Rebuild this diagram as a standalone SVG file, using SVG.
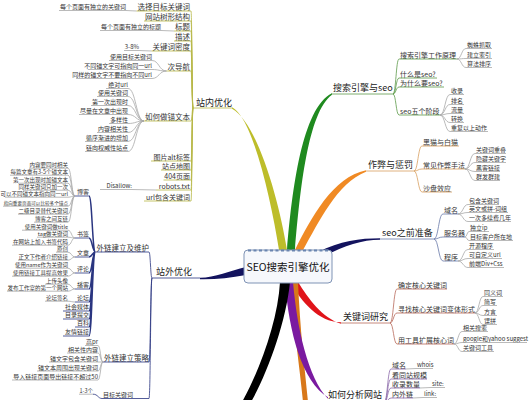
<svg xmlns="http://www.w3.org/2000/svg" width="529" height="400" viewBox="0 0 529 400">
<style>
text{font-family:"Noto Sans CJK SC","Noto Sans",sans-serif;fill:#333}
.e{text-anchor:end}
.f9{font-size:9px;fill:#222}
.f75{font-size:7.5px}
.f7{font-size:7px}
.f65{font-size:6.5px}
.f6{font-size:6px}
.f55{font-size:5.5px}
path.u,#conn path{fill:none;stroke-width:0.8}
.ky{stroke:#b8b848}
.kg{stroke:#5d9a4a}
.ko{stroke:#d8a060}
.kn{stroke:#6878a8}
.kr{stroke:#b86a5a}
.kp{stroke:#8a68a8}
.kb{stroke:#2a3580}
.kx{stroke:#a8a8a8}
</style>
<rect width="529" height="400" fill="#fff"/>
<g id="branches">
<path fill="#bdbd2a" d="M279,250 C271,200 253,118 232,107.3 L232,108.7 C257,122 279,200 287,250 Z"/>
<path fill="#1f8a1f" d="M287,250 C292,190 302,108 332,93.3 L332,94.7 C308,112 300,190 295,250 Z"/>
<path fill="#f08a24" d="M295,250 C311,218 333,177 366,170.3 L366,171.7 C337,183 319,222 303,250 Z"/>
<path fill="#13135e" d="M318,252 C340,241 360,238.3 380,238.3 L380,239.7 C360,239.7 340,247 318,260 Z"/>
<path fill="#e0141a" d="M290,282 C302,302 318,322 341,322.3 L341,323.7 C322,318 308,298 298,282 Z"/>
<path fill="#d8781a" d="M290,282 C294,330 300,370 303,402 L308,402 C305,370 300,330 298,282 Z"/>
<path fill="#7a1aa0" d="M285,282 C289,332 302,382 328,397.3 L328,398.7 C308,378 297,328 293,282 Z"/>
<path fill="#000" d="M280,282 C278,320 260,370 242,402 L251,402 C268,372 286,322 290,282 Z"/>
<path fill="#13135e" d="M246,267 C230,271 215,277.5 200,277.8 L200,279.2 C215,279.5 230,278 246,275 Z"/>
</g>
<g id="conn">
<path class="ky" d="M193 108C192 108 192 11 191 11M193 108C192 108 192 21 191 21M193 108C192 108 192 31 191 31M193 108C192 108 192 41 191 41M193 108C192 108 192 51 191 51M193 108C192 108 192 71 191 71M193 108C192 108 192 121 191 121M193 108C192 108 192 161 191 161M193 108C192 108 192 170 191 170M193 108C192 108 192 180 191 180M193 108C192 108 192 190 191 190M193 108C192 108 192 201 191 201"/>
<path class="kx" d="M126 10.5L136.5 11M161 30.5L174 31M139 50.5L151.5 51M152 60.5C159 60.5 159 71 166.5 71M152 69.5C159 69.5 159 71 166.5 71M152 78.5C159 78.5 159 71 166.5 71"/>
<path class="kx" d="M128 88.5C136 88.5 136 121 144 121M128 96.5C136 96.5 136 121 144 121M128 105.5C136 105.5 136 121 144 121M128 114.5C136 114.5 136 121 144 121M128 123.5C136 123.5 136 121 144 121M128 132.5C136 132.5 136 121 144 121M128 141.5C136 141.5 136 121 144 121M128 151.5C136 151.5 136 121 144 121M132 189.5L156 190"/>
<path class="kb" d="M152 278C150.5 278 150.5 252 149 252M152 278C150.5 278 150.5 362 149 362M152 278C150.5 278 150.5 398.5 149 398.5M93 394.2C98 394.2 98 398.5 102 398.5"/>
<path class="kb" style="stroke-width:1.5" d="M95.5 252C92.2 252 92.2 196 89 196M95.5 252C92.2 252 92.2 238 89 238M95.5 252C92.2 252 92.2 257 89 257M95.5 252C92.2 252 92.2 273 89 273M95.5 252C92.2 252 92.2 289 89 289M95.5 252C92.2 252 92.2 302 89 302M95.5 252C92.2 252 92.2 311 89 311M95.5 252C92.2 252 92.2 319 89 319M95.5 252C92.2 252 92.2 327 89 327M95.5 252C92.2 252 92.2 336 89 336"/>
<path class="kx" d="M68 168.2C71.5 168.2 71.5 196 75 196M68 175.2C71.5 175.2 71.5 196 75 196M68 183.2C71.5 183.2 71.5 196 75 196M68 190.2C71.5 190.2 71.5 196 75 196M68 197.2C71.5 197.2 71.5 196 75 196M68 206.2C71.5 206.2 71.5 196 75 196M68 214.2C71.5 214.2 71.5 196 75 196M68 222.2C71.5 222.2 71.5 196 75 196"/>
<path class="kx" d="M68 230.2C71.5 230.2 71.5 238 75 238M68 237.2C71.5 237.2 71.5 238 75 238M68 245.2C71.5 245.2 71.5 238 75 238M68 252.2C71.5 252.2 71.5 257 75 257M68 260.2C71.5 260.2 71.5 257 75 257M68 268.2C71.5 268.2 71.5 273 75 273M68 276.2C71.5 276.2 71.5 273 75 273M68 284.2C71.5 284.2 71.5 289 75 289M68 291.2C71.5 291.2 71.5 289 75 289M68 301.2C71.5 301.2 71.5 302 75 302"/>
<path class="kx" d="M98 345.5C100.5 345.5 100.5 362 103 362M98 353C100.5 353 100.5 362 103 362M98 362L103 362M98 371C100.5 371 100.5 362 103 362M98 380C100.5 380 100.5 362 103 362"/>
<path class="kg" d="M393 94C396 94 396 59 399 59M393 94C396 94 396 78 399 78M393 94C396 94 396 87 399 87M393 94C396 94 396 115 399 115"/>
<path class="kx" d="M457 59C461.5 59 461.5 48.5 466 48.5M457 59C461.5 59 461.5 58.5 466 58.5M457 59C461.5 59 461.5 67.5 466 67.5M440 115C445 115 445 94.5 450 94.5M440 115C445 115 445 104.5 450 104.5M440 115C445 115 445 113.5 450 113.5M440 115C445 115 445 122.5 450 122.5M440 115C445 115 445 131.5 450 131.5"/>
<path class="ko" d="M414 171C418 171 418 146 422 146M414 171C418 171 418 169 422 169M414 171C418 171 418 192 422 192"/>
<path class="kx" d="M465 169C470 169 470 153.5 475 153.5M465 169C470 169 470 162.5 475 162.5M465 169C470 169 470 171.5 475 171.5M465 169C470 169 470 180.5 475 180.5"/>
<path class="kn" d="M434 239C438.5 239 438.5 214 443 214M434 239C438.5 239 438.5 237 443 237M434 239C438.5 239 438.5 261 443 261"/>
<path class="kx" d="M458 214C463 214 463 204.5 468 204.5M458 214C463 214 463 212.5 468 212.5M458 214C463 214 463 221.5 468 221.5M465 237C467 237 467 231.5 469 231.5M465 237C467 237 467 240.5 469 240.5M458 261C463 261 463 249.5 468 249.5M458 261C463 261 463 258.5 468 258.5M458 261C463 261 463 267.5 468 267.5"/>
<path class="kr" d="M390 323C393.5 323 393.5 289 397 289M390 323C393.5 323 393.5 313 397 313M390 323C393.5 323 393.5 344 397 344"/>
<path class="kx" d="M475 313C479 313 479 296.5 483 296.5M475 313C479 313 479 305.5 483 305.5M475 313C479 313 479 315.5 483 315.5M475 313C479 313 479 324.5 483 324.5M454 344C458 344 458 331.5 462 331.5M454 344C458 344 458 342.5 462 342.5M454 344C458 344 458 351.5 462 351.5"/>
<path class="kp" d="M384 403C387.5 403 387.5 369 391 369M384 403C387.5 403 387.5 379 391 379M384 403C387.5 403 387.5 388 391 388M384 403C387.5 403 387.5 398 391 398"/>
<path class="kx" d="M406 369L416 368.5M420 388L431 387.5M413 398L423 397.5"/>
</g>
<g id="center">
<rect x="244" y="250" width="88" height="33" rx="4" fill="#f6f8fc" stroke="#7f93b5" stroke-width="1"/>
<path d="M248 250.5H328" stroke="#6a85b0" stroke-width="2.2" stroke-dasharray="3 2.5" fill="none"/>
<text x="288" y="271" text-anchor="middle" style="font-size:10.5px;fill:#111">SEO搜索引擎优化</text>
</g>
<g id="n-znyh"><text class="f9" x="196" y="106">站内优化</text><path class="u ky" d="M193 108H232"/></g>
<g id="n-zn1"><text class="f75 e" x="190" y="9.7">选择目标关键词</text><path class="u ky" d="M136.5 11H191"/></g>
<g id="n-zn2"><text class="f75 e" x="190" y="19.7">网站树形结构</text><path class="u ky" d="M144 21H191"/></g>
<g id="n-zn3"><text class="f75 e" x="190" y="29.7">标题</text><path class="u ky" d="M174 31H191"/></g>
<g id="n-zn4"><text class="f75 e" x="190" y="39.7">描述</text><path class="u ky" d="M174 41H191"/></g>
<g id="n-zn5"><text class="f75 e" x="190" y="49.7">关键词密度</text><path class="u ky" d="M151.5 51H191"/></g>
<g id="n-zn6"><text class="f75 e" x="190" y="69.7">次导航</text><path class="u ky" d="M166.5 71H191"/></g>
<g id="n-zn7"><text class="f75 e" x="190" y="119.7">如何做锚文本</text><path class="u ky" d="M144 121H191"/></g>
<g id="n-zn8"><text class="f7 e" x="190" y="159.5">图片alt标签</text><path class="u ky" d="M151 161H191"/></g>
<g id="n-zn9"><text class="f7 e" x="190" y="168.5">站点地图</text><path class="u ky" d="M161 170H191"/></g>
<g id="n-zn10"><text class="f7 e" x="190" y="178.5">404页面</text><path class="u ky" d="M163.5 180H191"/></g>
<g id="n-zn11"><text class="f7 e" x="190" y="188.5">robots.txt</text><path class="u ky" d="M156 190H191"/></g>
<g id="n-zn12"><text class="f7 e" x="190" y="199.5">url包含关键词</text><path class="u ky" d="M144 201H191"/></g>
<g id="n-zl1"><text class="f6 e" x="126" y="9.2">每个页面有独立的关键词</text><path class="u kx" d="M59 10.5H126"/></g>
<g id="n-zl2"><text class="f6 e" x="161" y="29.2">每个页面有独立的标题</text><path class="u kx" d="M100 30.5H161"/></g>
<g id="n-zl3"><text class="f6 e" x="139" y="49.2">3-8%</text><path class="u kx" d="M124 50.5H139"/></g>
<g id="n-zl4"><text class="f6 e" x="152" y="59.2">使用目标关键词</text><path class="u kx" d="M109 60.5H152"/></g>
<g id="n-zl5"><text class="f6 e" x="152" y="68.2">不同锚文字可指向同一url</text><path class="u kx" d="M88 69.5H152"/></g>
<g id="n-zl6"><text class="f6 e" x="152" y="77.2">同样的锚文字不要指向不同url</text><path class="u kx" d="M76 78.5H152"/></g>
<g id="n-zl7"><text class="f6 e" x="128" y="87.2">绝对url</text><path class="u kx" d="M106 88.5H128"/></g>
<g id="n-zl8"><text class="f6 e" x="128" y="95.2">使用关键词</text><path class="u kx" d="M97 96.5H128"/></g>
<g id="n-zl9"><text class="f6 e" x="128" y="104.2">第一次出现时</text><path class="u kx" d="M91 105.5H128"/></g>
<g id="n-zl10"><text class="f6 e" x="128" y="113.2">尽量在文章中出现</text><path class="u kx" d="M79 114.5H128"/></g>
<g id="n-zl11"><text class="f6 e" x="128" y="122.2">多样性</text><path class="u kx" d="M109 123.5H128"/></g>
<g id="n-zl12"><text class="f6 e" x="128" y="131.2">内容相关性</text><path class="u kx" d="M97 132.5H128"/></g>
<g id="n-zl13"><text class="f6 e" x="128" y="140.2">循序渐进的增加</text><path class="u kx" d="M85 141.5H128"/></g>
<g id="n-zl14"><text class="f6 e" x="128" y="150.2">链向权威性站点</text><path class="u kx" d="M85 151.5H128"/></g>
<g id="n-zl15"><text class="f6 e" x="132" y="188.2">Disallow:</text><path class="u kx" d="M100 189.5H132"/></g>
<g id="n-zwyh"><text class="f9" x="156" y="275.2">站外优化</text><path class="u kb" d="M152 278H200"/></g>
<g id="n-wl1"><text class="f75 e" x="149" y="250.7">外链建立及维护</text><path class="u kb" d="M95.5 252H149"/></g>
<g id="n-wl2"><text class="f75 e" x="149" y="360.7">外链建立策略</text><path class="u kb" d="M103 362H149"/></g>
<g id="n-wl3"><text class="f6 e" x="133" y="397.2">目标关键词</text><path class="u kb" d="M102 398.5H149"/></g>
<g id="n-wl4"><text class="f55 e" x="93" y="393">1-3个</text><path class="u kx" d="M79 394.2H93"/></g>
<g id="n-b1"><text class="f6 e" x="89" y="194.2">博客</text><path class="u kb" d="M75 196H89"/></g>
<g id="n-b2"><text class="f6 e" x="89" y="236.2">书签</text><path class="u kb" d="M75 238H89"/></g>
<g id="n-b3"><text class="f6 e" x="89" y="255.2">文章</text><path class="u kb" d="M75 257H89"/></g>
<g id="n-b4"><text class="f6 e" x="89" y="271.2">评论</text><path class="u kb" d="M75 273H89"/></g>
<g id="n-b5"><text class="f6 e" x="89" y="287.2">播客</text><path class="u kb" d="M75 289H89"/></g>
<g id="n-b6"><text class="f6 e" x="89" y="300.2">论坛</text><path class="u kb" d="M75 302H89"/></g>
<g id="n-b7"><text class="f6 e" x="89" y="309.2">社会媒体</text><path class="u kb" d="M63 311H89"/></g>
<g id="n-b8"><text class="f6 e" x="89" y="317.2">目录提交</text><path class="u kb" d="M63 319H89"/></g>
<g id="n-b9"><text class="f6 e" x="89" y="325.2">百科</text><path class="u kb" d="M75 327H89"/></g>
<g id="n-b10"><text class="f6 e" x="89" y="334.2">友情链接</text><path class="u kb" d="M63 336H89"/></g>
<g id="n-bl1"><text class="f55 e" x="68" y="167">内容要同时相关</text><path class="u kx" d="M29 168.2H68"/></g>
<g id="n-bl2"><text class="f55 e" x="68" y="174">每篇文章有3-5个锚文本</text><path class="u kx" d="M10 175.2H68"/></g>
<g id="n-bl3"><text class="f55 e" x="68" y="182">第一次出现时加锚文本</text><path class="u kx" d="M18 183.2H68"/></g>
<g id="n-bl4"><text class="f55 e" x="68" y="189">同样关键词只加一次</text><path class="u kx" d="M23 190.2H68"/></g>
<g id="n-bl5"><text class="f55 e" x="68" y="196">可以不同锚文本指向同一url</text><path class="u kx" d="M5 197.2H68"/></g>
<g id="n-bl6"><text class="e" x="68" y="205" style="font-size:4.6px">指向重要页面可以比较多个锚点</text><path class="u kx" d="M3 206.2H68"/></g>
<g id="n-bl7"><text class="f55 e" x="68" y="213">二级目录替代关键词</text><path class="u kx" d="M18 214.2H68"/></g>
<g id="n-bl8"><text class="f55 e" x="68" y="221">博客之间互链</text><path class="u kx" d="M34 222.2H68"/></g>
<g id="n-sl1"><text class="f55 e" x="68" y="229">使用关键词做title</text><path class="u kx" d="M22 230.2H68"/></g>
<g id="n-sl2"><text class="f55 e" x="68" y="236">tag做关键词</text><path class="u kx" d="M37 237.2H68"/></g>
<g id="n-sl3"><text class="f55 e" x="68" y="244">在网站上加入书签代码</text><path class="u kx" d="M12 245.2H68"/></g>
<g id="n-al1"><text class="f55 e" x="68" y="251">原创</text><path class="u kx" d="M56 252.2H68"/></g>
<g id="n-al2"><text class="f55 e" x="68" y="259">正文下作者介绍链接</text><path class="u kx" d="M18 260.2H68"/></g>
<g id="n-pl1"><text class="f55 e" x="68" y="267">使用name作为关键词</text><path class="u kx" d="M17 268.2H68"/></g>
<g id="n-pl2"><text class="f55 e" x="68" y="275">使用链接工具提高效果</text><path class="u kx" d="M12 276.2H68"/></g>
<g id="n-wk1"><text class="f55 e" x="68" y="283">上传头像</text><path class="u kx" d="M45 284.2H68"/></g>
<g id="n-wk2"><text class="f55 e" x="68" y="290">发布工作室的第一个网站</text><path class="u kx" d="M7 291.2H68"/></g>
<g id="n-lt1"><text class="f55 e" x="68" y="300">论坛签名</text><path class="u kx" d="M45 301.2H68"/></g>
<g id="n-cl1"><text class="f6 e" x="98" y="344.2">高pr</text><path class="u kx" d="M85 345.5H98"/></g>
<g id="n-cl2"><text class="f6 e" x="98" y="351.7">相关性内容</text><path class="u kx" d="M67 353H98"/></g>
<g id="n-cl3"><text class="f6 e" x="98" y="360.7">锚文字包含关键词</text><path class="u kx" d="M49 362H98"/></g>
<g id="n-cl4"><text class="f6 e" x="98" y="369.7">锚文本周围出现关键词</text><path class="u kx" d="M37 371H98"/></g>
<g id="n-cl5"><text class="f6 e" x="98" y="378.7">导入链接页面导出链接不超过50</text><path class="u kx" d="M12 380H98"/></g>
<g id="n-ssyq"><text class="f9" x="333" y="91.2">搜索引擎与seo</text><path class="u kg" d="M331 94H393"/></g>
<g id="n-s1"><text class="f7" x="400" y="57.5">搜索引擎工作原理</text><path class="u kg" d="M399 59H457"/></g>
<g id="n-s2"><text class="f7" x="400" y="76.5">什么是seo?</text><path class="u kg" d="M399 78H437"/></g>
<g id="n-s3"><text class="f7" x="400" y="85.5">为什么要seo?</text><path class="u kg" d="M399 87H444"/></g>
<g id="n-s4"><text class="f7" x="400" y="113.5">seo五个阶段</text><path class="u kg" d="M399 115H440"/></g>
<g id="n-sl-1"><text class="f6" x="467" y="47.2">蜘蛛抓取</text><path class="u kx" d="M466 48.5H492"/></g>
<g id="n-sl-2"><text class="f6" x="467" y="57.2">建立索引</text><path class="u kx" d="M466 58.5H492"/></g>
<g id="n-sl-3"><text class="f6" x="467" y="66.2">算法排序</text><path class="u kx" d="M466 67.5H492"/></g>
<g id="n-sj1"><text class="f6" x="451" y="93.2">收录</text><path class="u kx" d="M450 94.5H464"/></g>
<g id="n-sj2"><text class="f6" x="451" y="103.2">排名</text><path class="u kx" d="M450 104.5H464"/></g>
<g id="n-sj3"><text class="f6" x="451" y="112.2">流量</text><path class="u kx" d="M450 113.5H464"/></g>
<g id="n-sj4"><text class="f6" x="451" y="121.2">转换</text><path class="u kx" d="M450 122.5H464"/></g>
<g id="n-sj5"><text class="f6" x="451" y="130.2">重复以上动作</text><path class="u kx" d="M450 131.5H488"/></g>
<g id="n-zbcf"><text class="f9" x="368" y="168.2">作弊与惩罚</text><path class="u ko" d="M366 171H414"/></g>
<g id="n-z1"><text class="f7" x="423" y="144.5">黑猫与白猫</text><path class="u ko" d="M422 146H459"/></g>
<g id="n-z2"><text class="f7" x="423" y="167.5">常见作弊手法</text><path class="u ko" d="M422 169H465"/></g>
<g id="n-z3"><text class="f7" x="423" y="190.5">沙盘效应</text><path class="u ko" d="M422 192H452"/></g>
<g id="n-zl-1"><text class="f6" x="476" y="152.2">关键词重叠</text><path class="u kx" d="M475 153.5H506"/></g>
<g id="n-zl-2"><text class="f6" x="476" y="161.2">隐藏关键字</text><path class="u kx" d="M475 162.5H506"/></g>
<g id="n-zl-3"><text class="f6" x="476" y="170.2">黑客链接</text><path class="u kx" d="M475 171.5H500"/></g>
<g id="n-zl-4"><text class="f6" x="476" y="179.2">群发群建</text><path class="u kx" d="M475 180.5H500"/></g>
<g id="n-zqzb"><text class="f9" x="382" y="236.2">seo之前准备</text><path class="u kn" d="M380 239H434"/></g>
<g id="n-q1"><text class="f7" x="444" y="212.5">域名</text><path class="u kn" d="M443 214H458"/></g>
<g id="n-q2"><text class="f7" x="444" y="235.5">服务器</text><path class="u kn" d="M443 237H465"/></g>
<g id="n-q3"><text class="f7" x="444" y="259.5">程序</text><path class="u kn" d="M443 261H458"/></g>
<g id="n-ql1"><text class="f6" x="469" y="203.2">包含关键词</text><path class="u kx" d="M468 204.5H499"/></g>
<g id="n-ql2"><text class="f6" x="469" y="211.2">英文或拼-词组</text><path class="u kx" d="M468 212.5H508"/></g>
<g id="n-ql3"><text class="f6" x="469" y="220.2">一次多续费几年</text><path class="u kx" d="M468 221.5H511"/></g>
<g id="n-ql4"><text class="f6" x="470" y="230.2">独立ip</text><path class="u kx" d="M469 231.5H489"/></g>
<g id="n-ql5"><text class="f6" x="470" y="239.2">目标客户所在地</text><path class="u kx" d="M469 240.5H513"/></g>
<g id="n-ql6"><text class="f6" x="469" y="248.2">开源程序</text><path class="u kx" d="M468 249.5H494"/></g>
<g id="n-ql7"><text class="f6" x="469" y="257.2">可自定义url</text><path class="u kx" d="M468 258.5H502"/></g>
<g id="n-ql8"><text class="f6" x="469" y="266.2">前端Div+Css</text><path class="u kx" d="M468 267.5H504"/></g>
<g id="n-gjc"><text class="f9" x="343" y="320.2">关键词研究</text><path class="u kr" d="M341 323H390"/></g>
<g id="n-g1"><text class="f7" x="398" y="287.5">确定核心关键词</text><path class="u kr" d="M397 289H447"/></g>
<g id="n-g2"><text class="f7" x="398" y="311.5">寻找核心关键词变体形式</text><path class="u kr" d="M397 313H475"/></g>
<g id="n-g3"><text class="f7" x="398" y="342.5">用工具扩展核心词</text><path class="u kr" d="M397 344H454"/></g>
<g id="n-gl1"><text class="f6" x="484" y="295.2">同义词</text><path class="u kx" d="M483 296.5H503"/></g>
<g id="n-gl2"><text class="f6" x="484" y="304.2">简写</text><path class="u kx" d="M483 305.5H497"/></g>
<g id="n-gl3"><text class="f6" x="484" y="314.2">方言</text><path class="u kx" d="M483 315.5H497"/></g>
<g id="n-gl4"><text class="f6" x="484" y="323.2">误拼</text><path class="u kx" d="M483 324.5H497"/></g>
<g id="n-gl5"><text class="f6" x="463" y="330.2">相关搜索</text><path class="u kx" d="M462 331.5H488"/></g>
<g id="n-gl6"><text class="f6" x="463" y="341.2">google和yahoo suggest</text><path class="u kx" d="M462 342.5H527"/></g>
<g id="n-gl7"><text class="f6" x="463" y="350.2">关键词工具</text><path class="u kx" d="M462 351.5H494"/></g>
<g id="n-fx"><text class="f9" x="328" y="398">如何分析网站</text></g>
<g id="n-f1"><text class="f7" x="392" y="367.5">域名</text><path class="u kp" d="M391 369H406"/></g>
<g id="n-f2"><text class="f7" x="392" y="377.5">看同站规模</text><path class="u kp" d="M391 379H427"/></g>
<g id="n-f3"><text class="f7" x="392" y="386.5">收录数量</text><path class="u kp" d="M391 388H420"/></g>
<g id="n-f4"><text class="f7" x="392" y="396.5">内外链</text><path class="u kp" d="M391 398H413"/></g>
<g id="n-fl1"><text class="f6" x="417" y="367.2">whois</text><path class="u kx" d="M416 368.5H433"/></g>
<g id="n-fl2"><text class="f6" x="432" y="386.2">site:</text><path class="u kx" d="M431 387.5H445"/></g>
<g id="n-fl3"><text class="f6" x="424" y="396.2">link:</text><path class="u kx" d="M423 397.5H437"/></g>
</svg>
